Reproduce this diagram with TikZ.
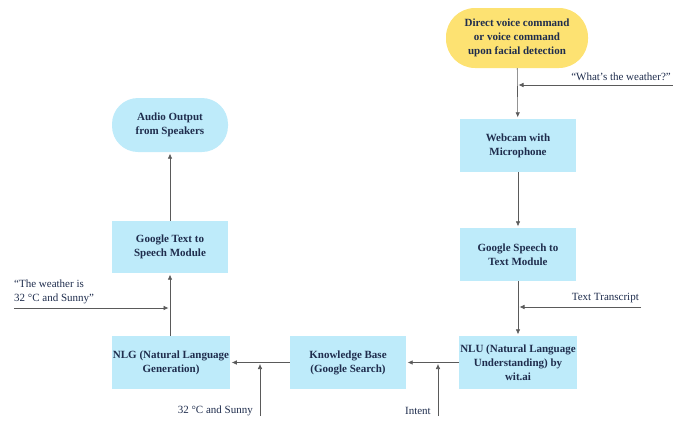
\documentclass[tikz,border=0pt]{standalone}
\usepackage{fontspec}
\setmainfont{Liberation Serif}
\usepackage{xcolor}
\usetikzlibrary{arrows.meta}
\definecolor{boxblue}{HTML}{BEEBFA}
\definecolor{startyellow}{HTML}{FDE272}
\definecolor{inktext}{HTML}{1F2D4D}
\definecolor{linegray}{HTML}{5A5A5A}

\begin{document}
\begin{tikzpicture}[x=1pt,y=-1pt,
        proc/.style={fill=boxblue, minimum width=116pt, minimum height=53pt, inner sep=1pt,
            align=center, text=inktext, font=\bfseries\fontsize{11}{14}\selectfont},
        term/.style={proc, rounded corners=26pt},
        flow/.style={draw=linegray, line width=0.6pt, -{Latex[length=5pt,width=4.5pt]}, shorten >=1.5pt},
        note/.style={text=inktext, inner sep=1pt, align=left, font=\fontsize{11}{14}\selectfont}]
        \useasboundingbox (0,0) rectangle (673,421);
        % right column
        \node[term, fill=startyellow, minimum width=142pt, minimum height=60pt, rounded corners=29pt] (start) at (517,38)
            {Direct voice command\\or voice command\\upon facial detection};
        \node[proc] (webcam) at (518,145.5) {Webcam with\\Microphone};
        \node[proc] (speech) at (518,254.5) {Google Speech to\\Text Module};
        \node[proc] (nlu) at (518,362.5) {NLU (Natural Language\\Understanding) by\\wit.ai};
        % bottom row and left column
        \node[proc] (kb) at (348,362.5) {Knowledge Base\\(Google Search)};
        \node[proc] (nlg) at (171,362.5) {NLG (Natural Language\\Generation)};
        \node[proc, minimum height=52pt] (tts) at (170,247) {Google Text to\\Speech Module};
        \node[term, minimum height=54pt] (audio) at (170,125) {Audio Output\\from Speakers};

        \draw[flow] (start) -- (webcam);
        \draw[flow] (webcam) -- (speech);
        \draw[flow] (speech) -- (nlu);
        \draw[flow] (nlu) -- (kb);
        \draw[flow] (kb) -- (nlg);
        \draw[flow] (nlg.north -| tts) -- (tts);
        \draw[flow] (tts) -- (audio);

        % side inputs
        \coordinate (askin) at (673,85);
        \coordinate (textin) at (641,307);
        \coordinate (intentin) at (438,416);
        \coordinate (sunnyin) at (260,416);
        \coordinate (answerin) at (14,308);
        \draw[flow] (askin) -- (askin -| start);
        \draw[flow] (textin) -- (textin -| speech);
        \draw[flow] (intentin) -- (intentin |- nlu);
        \draw[flow] (sunnyin) -- (sunnyin |- kb);
        \draw[flow] (answerin) -- (answerin -| tts);

        \node[note, anchor=south east] (asklabel) at (672,82) {“What's the weather?”};
        \node[note, anchor=south east] (textlabel) at (640,304) {Text Transcript};
        \node[note, anchor=east] (intentlabel) at (432,411) {Intent};
        \node[note, anchor=east] (sunnylabel) at (254,411) {32 °C and Sunny};
        \node[note, anchor=south west] (answerlabel) at (13,305) {“The weather is\\32 °C and Sunny”};
    \end{tikzpicture}
\end{document}
